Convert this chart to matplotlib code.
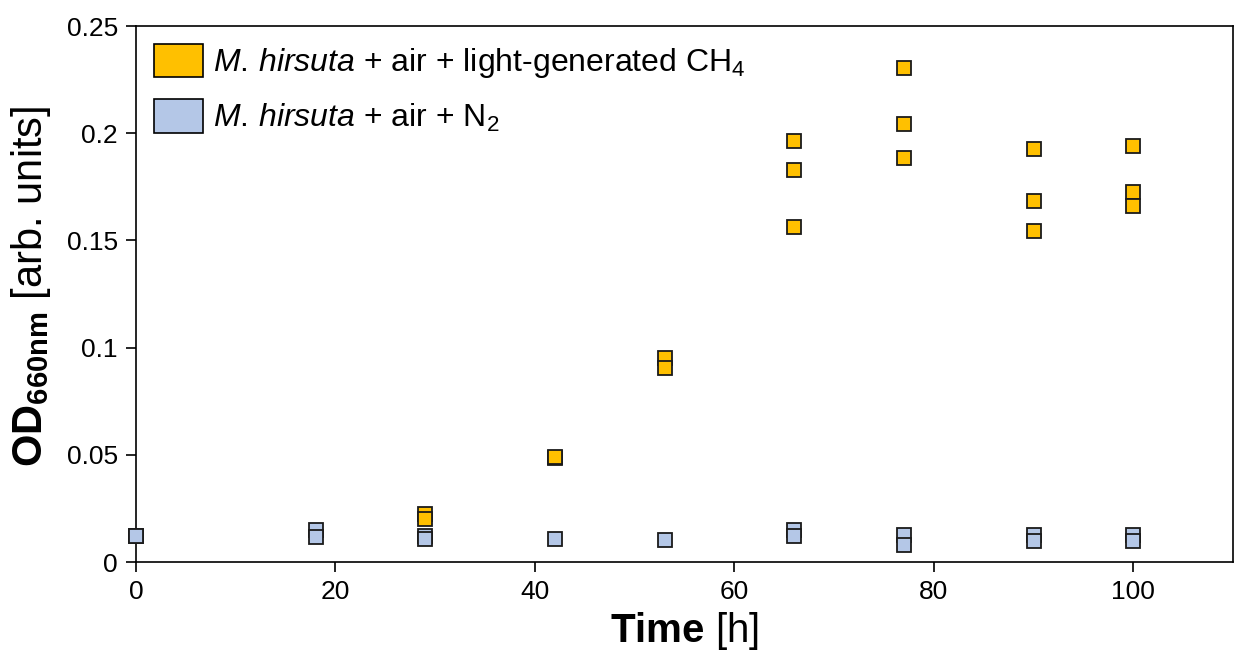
import matplotlib
matplotlib.use("Agg")
import matplotlib.pyplot as plt
from matplotlib.patches import Patch

plt.rcParams["font.family"] = ["Liberation Sans", "DejaVu Sans"]
plt.rcParams["mathtext.fontset"] = "custom"
plt.rcParams["mathtext.rm"] = "Liberation Sans"
plt.rcParams["mathtext.it"] = "Liberation Sans:italic"
plt.rcParams["mathtext.bf"] = "Liberation Sans:bold"

# Sampling times [h] and optical density replicates
ch4_time = [29, 29, 42, 42, 53, 53, 66, 66, 66, 77, 77, 77, 90, 90, 90, 100, 100, 100]
ch4_od = [0.0223, 0.0202, 0.0483, 0.0490, 0.0951, 0.0907,
          0.1964, 0.1829, 0.1562, 0.2305, 0.2045, 0.1883,
          0.1924, 0.1684, 0.1542, 0.1941, 0.1726, 0.1662]

n2_time = [0, 0, 18, 18, 29, 29, 42, 53, 66, 66, 77, 77, 90, 90, 100, 100]
n2_od = [0.0120, 0.0120, 0.0148, 0.0118, 0.0121, 0.0106, 0.0106, 0.0103,
         0.0150, 0.0121, 0.0126, 0.0078, 0.0124, 0.0100, 0.0124, 0.0100]

x_ticks = [0, 20, 40, 60, 80, 100]
y_ticks = [0, 0.05, 0.1, 0.15, 0.2, 0.25]
y_tick_labels = ["0", "0.05", "0.1", "0.15", "0.2", "0.25"]

orange = "#FFC000"
blue = "#B4C7E7"

fig = plt.figure(figsize=(12.35, 6.62), dpi=100)
ax = fig.add_axes([136 / 1235, 1 - 562 / 662, (1233 - 136) / 1235, (562 - 26) / 662])

ms = 10
mew = 1.3
ax.plot(ch4_time, ch4_od, linestyle="none", marker="s", markersize=ms,
        markerfacecolor=orange, markeredgecolor="#1a1a1a", markeredgewidth=mew,
        clip_on=False, zorder=3)
ax.plot(n2_time, n2_od, linestyle="none", marker="s", markersize=ms,
        markerfacecolor=blue, markeredgecolor="#1a1a1a", markeredgewidth=mew,
        clip_on=False, zorder=4)

ax.set_xlim(0, 110)
ax.set_ylim(0, 0.25)
ax.set_xticks(x_ticks)
ax.set_yticks(y_ticks)
ax.set_yticklabels(y_tick_labels)
ax.tick_params(axis="both", direction="out", length=7, width=1.2,
               labelsize=19, colors="black", pad=6)
for sp in ax.spines.values():
    sp.set_linewidth(1.2)
    sp.set_color("black")

ax.set_xlabel(r"$\mathbf{Time}$ [h]", fontsize=29, labelpad=4)
ax.set_ylabel(r"$\mathbf{OD_{660nm}}$ [arb. units]", fontsize=30)
ax.yaxis.set_label_coords(-0.076, 0.515)

handles = [
    Patch(facecolor=orange, edgecolor="black", linewidth=1.2),
    Patch(facecolor=blue, edgecolor="black", linewidth=1.2),
]
labels = [
    r"$\mathit{M.}\,\mathit{hirsuta}$ + air + light-generated CH$_4$",
    r"$\mathit{M.}\,\mathit{hirsuta}$ + air + N$_2$",
]
ax.legend(handles, labels, loc="upper left", bbox_to_anchor=(0.0, 1.0),
          frameon=False, fontsize=23, handlelength=1.55, handleheight=1.25,
          handletextpad=0.3, labelspacing=0.6, borderaxespad=0.3,
          borderpad=0.25)

fig.savefig("out.png", dpi=100)
